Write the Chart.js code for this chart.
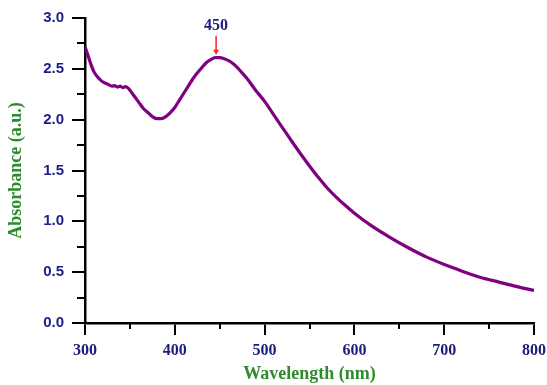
<!DOCTYPE html>
<html>

<head>
    <title>Absorbance Spectrum</title>
    <script src="https://cdn.jsdelivr.net/npm/chart.js"></script>
    <style>
        html, body {
            margin: 0;
            padding: 0;
            background: #ffffff;
        }

        .chart-container {
            width: 547px;
            height: 385px;
        }
    </style>
</head>

<body>
    <div class="chart-container">
        <canvas id="chart1"></canvas>
    </div>

    <script>
        const wavelength = [300, 303, 306, 310, 315, 320, 325, 330, 333, 336, 339, 342, 345, 348, 350, 355, 360, 365, 370, 375,
            380, 385, 390, 395, 400, 405, 410, 415, 420, 425, 430, 435, 440, 445, 450, 455, 460, 465, 470, 475,
            480, 490, 500, 510, 520, 530, 540, 550, 560, 570, 580, 590, 600, 620, 640, 660, 680, 700, 720, 740, 760, 780, 800];
        const absorbance = [2.72, 2.64, 2.56, 2.47, 2.41, 2.37, 2.35, 2.33, 2.335, 2.32, 2.33, 2.315, 2.325, 2.31, 2.29, 2.23, 2.17, 2.11, 2.07, 2.03,
            2.01, 2.01, 2.03, 2.07, 2.12, 2.19, 2.26, 2.33, 2.40, 2.46, 2.51, 2.56, 2.59, 2.61, 2.61, 2.60, 2.58, 2.55, 2.51, 2.46,
            2.41, 2.29, 2.18, 2.05, 1.92, 1.79, 1.665, 1.545, 1.43, 1.325, 1.235, 1.155, 1.08, 0.95, 0.84, 0.74, 0.65, 0.575, 0.51, 0.45, 0.405, 0.36, 0.32];
        const peakWavelength = 446;
        const peakLabel = '450';

        const points = wavelength.map((w, i) => ({ x: w, y: absorbance[i] }));

        // minor ticks and the peak marker
        const extras = {
            id: 'extras',
            afterDraw(chart) {
                const ctx = chart.ctx;
                const xs = chart.scales.x;
                const ys = chart.scales.y;
                ctx.save();
                ctx.strokeStyle = '#000';
                ctx.lineWidth = 2;
                for (let v = 0.25; v < 3; v += 0.5) {
                    const py = Math.round(ys.getPixelForValue(v));
                    ctx.beginPath();
                    ctx.moveTo(xs.left - 8, py);
                    ctx.lineTo(xs.left, py);
                    ctx.stroke();
                }
                for (let v = 350; v < 800; v += 100) {
                    const px = Math.round(xs.getPixelForValue(v));
                    ctx.beginPath();
                    ctx.moveTo(px, ys.bottom);
                    ctx.lineTo(px, ys.bottom + 6);
                    ctx.stroke();
                }

                const ax = xs.getPixelForValue(peakWavelength);
                const ay = ys.getPixelForValue(2.61);
                ctx.strokeStyle = '#ff2020';
                ctx.fillStyle = '#ff2020';
                ctx.lineWidth = 1.5;
                ctx.beginPath();
                ctx.moveTo(ax, ay - 22);
                ctx.lineTo(ax, ay - 6);
                ctx.stroke();
                ctx.beginPath();
                ctx.moveTo(ax - 3, ay - 8);
                ctx.lineTo(ax + 3, ay - 8);
                ctx.lineTo(ax, ay - 3);
                ctx.closePath();
                ctx.fill();

                ctx.fillStyle = '#1c1c7a';
                ctx.font = 'bold 16px "Liberation Serif"';
                ctx.textAlign = 'center';
                ctx.textBaseline = 'middle';
                ctx.fillText(peakLabel, ax, ay - 32);
                ctx.restore();
            }
        };

        new Chart(document.getElementById('chart1'), {
            type: 'line',
            data: {
                datasets: [{
                    data: points,
                    borderColor: '#800080',
                    borderWidth: 3.2,
                    pointRadius: 0,
                    cubicInterpolationMode: 'monotone',
                    fill: false
                }]
            },
            options: {
                responsive: true,
                maintainAspectRatio: false,
                animation: false,
                layout: {
                    padding: { top: 18, right: 0, left: 0, bottom: 0 }
                },
                plugins: {
                    legend: { display: false },
                    tooltip: { enabled: false }
                },
                scales: {
                    x: {
                        type: 'linear',
                        min: 300,
                        max: 800,
                        border: { color: '#000', width: 2.5 },
                        grid: { drawOnChartArea: false, color: '#000', lineWidth: 2, tickLength: 12 },
                        ticks: {
                            stepSize: 100,
                            color: '#1c1c7a',
                            padding: 6,
                            maxRotation: 0,
                            font: { family: '"Liberation Serif"', size: 16, weight: 'bold' }
                        },
                        title: {
                            display: true,
                            text: 'Wavelength (nm)',
                            color: '#2e8b2e',
                            padding: { top: 8, bottom: 0 },
                            font: { family: '"Liberation Serif"', size: 18, weight: 'bold' }
                        },
                        afterFit(scale) {
                            scale.height = 62;
                            scale.paddingLeft = 0;
                            scale.paddingRight = 13;
                        }
                    },
                    y: {
                        min: 0,
                        max: 3,
                        border: { color: '#000', width: 2.5 },
                        grid: { drawOnChartArea: false, color: '#000', lineWidth: 2, tickLength: 13 },
                        ticks: {
                            stepSize: 0.5,
                            color: '#1c1c8a',
                            padding: 8,
                            callback: v => v.toFixed(1),
                            font: { family: '"Liberation Sans"', size: 15, weight: 'bold' }
                        },
                        title: {
                            display: true,
                            text: 'Absorbance (a.u.)',
                            color: '#2e8b2e',
                            padding: { top: 6, bottom: 0 },
                            font: { family: '"Liberation Serif"', size: 18, weight: 'bold' }
                        },
                        afterFit(scale) { scale.width = 85; }
                    }
                }
            },
            plugins: [extras]
        });
    </script>
</body>

</html>
